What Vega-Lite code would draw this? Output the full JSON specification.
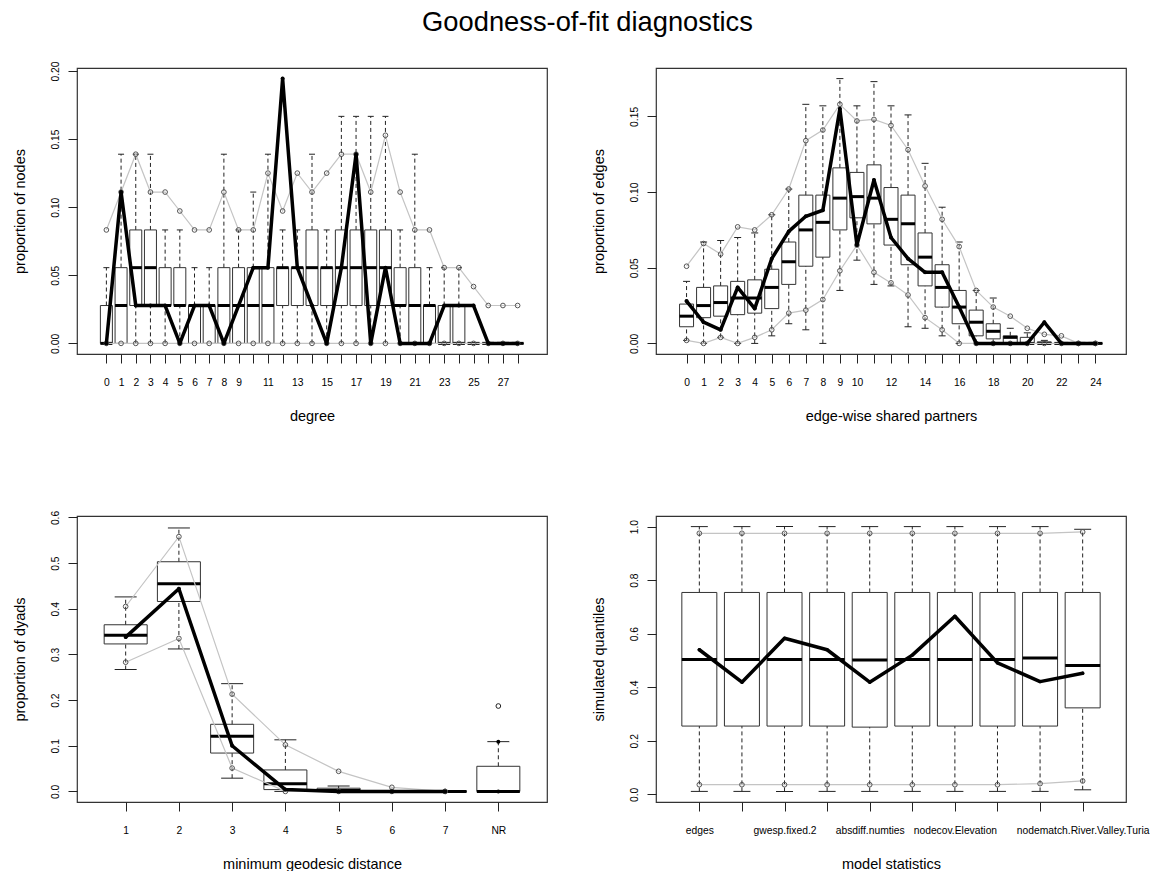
{
  "$schema": "https://vega.github.io/schema/vega-lite/v6.json",
  "title": {"text": "Goodness-of-fit diagnostics", "fontSize": 27.3, "fontWeight": "normal", "font": "Liberation Sans", "color": "#000", "anchor": "middle", "offset": 24, "dx": 7},
  "padding": {"left": 11, "top": 9, "right": 0, "bottom": 0},
  "bounds": "flush",
  "columns": 2,
  "spacing": {"row": 162, "column": 109},
  "config": {
    "font": "Liberation Sans",
    "view": {"stroke": "#333", "strokeWidth": 1.2},
    "axis": {"grid": false, "domain": false, "tickColor": "#222", "tickSize": 9, "labelFontSize": 10.3, "labelColor": "#000", "titleFontSize": 14.5, "titleFontWeight": "normal", "titleColor": "#000", "labelOverlap": false, "labelFlush": false},
    "axisX": {"labelAngle": 0, "labelPadding": 14, "titlePadding": 22},
    "axisY": {"labelAngle": -90, "labelAlign": "center", "labelBaseline": "bottom", "labelPadding": 8, "titlePadding": 23},
    "tick": {"opacity": 1}
  },
  "datasets": {
    "degree": [
      {"d": 0, "q1": 0, "med": 0, "q3": 0.0278, "lo": 0, "hi": 0.0556, "p025": 0, "p975": 0.0833, "obs": 0},
      {"d": 1, "q1": 0, "med": 0.0278, "q3": 0.0556, "lo": 0, "hi": 0.1389, "p025": 0, "p975": 0.1111, "obs": 0.1111},
      {"d": 2, "q1": 0.0278, "med": 0.0556, "q3": 0.0833, "lo": 0, "hi": 0.1389, "p025": 0, "p975": 0.1389, "obs": 0.0278},
      {"d": 3, "q1": 0.0278, "med": 0.0556, "q3": 0.0833, "lo": 0, "hi": 0.1389, "p025": 0, "p975": 0.1111, "obs": 0.0278},
      {"d": 4, "q1": 0.0278, "med": 0.0278, "q3": 0.0556, "lo": 0, "hi": 0.0833, "p025": 0, "p975": 0.1111, "obs": 0.0278},
      {"d": 5, "q1": 0.0278, "med": 0.0278, "q3": 0.0556, "lo": 0, "hi": 0.0833, "p025": 0, "p975": 0.0972, "obs": 0},
      {"d": 6, "q1": 0, "med": 0.0278, "q3": 0.0278, "lo": 0, "hi": 0.0556, "p025": 0, "p975": 0.0833, "obs": 0.0278},
      {"d": 7, "q1": 0, "med": 0.0278, "q3": 0.0278, "lo": 0, "hi": 0.0556, "p025": 0, "p975": 0.0833, "obs": 0.0278},
      {"d": 8, "q1": 0, "med": 0.0278, "q3": 0.0556, "lo": 0, "hi": 0.1389, "p025": 0, "p975": 0.1111, "obs": 0},
      {"d": 9, "q1": 0, "med": 0.0278, "q3": 0.0556, "lo": 0, "hi": 0.0833, "p025": 0, "p975": 0.0833, "obs": 0.0278},
      {"d": 10, "q1": 0, "med": 0.0278, "q3": 0.0556, "lo": 0, "hi": 0.1111, "p025": 0, "p975": 0.0833, "obs": 0.0556},
      {"d": 11, "q1": 0, "med": 0.0278, "q3": 0.0556, "lo": 0, "hi": 0.1389, "p025": 0, "p975": 0.125, "obs": 0.0556},
      {"d": 12, "q1": 0.0278, "med": 0.0556, "q3": 0.0556, "lo": 0, "hi": 0.0833, "p025": 0, "p975": 0.0972, "obs": 0.1944},
      {"d": 13, "q1": 0.0278, "med": 0.0556, "q3": 0.0556, "lo": 0, "hi": 0.0833, "p025": 0, "p975": 0.125, "obs": 0.0556},
      {"d": 14, "q1": 0.0278, "med": 0.0556, "q3": 0.0833, "lo": 0, "hi": 0.1389, "p025": 0, "p975": 0.1111, "obs": 0.0278},
      {"d": 15, "q1": 0.0278, "med": 0.0556, "q3": 0.0556, "lo": 0, "hi": 0.0833, "p025": 0, "p975": 0.125, "obs": 0},
      {"d": 16, "q1": 0.0278, "med": 0.0556, "q3": 0.0833, "lo": 0, "hi": 0.1667, "p025": 0, "p975": 0.1389, "obs": 0.0556},
      {"d": 17, "q1": 0.0278, "med": 0.0556, "q3": 0.0833, "lo": 0, "hi": 0.1667, "p025": 0, "p975": 0.1389, "obs": 0.1389},
      {"d": 18, "q1": 0.0278, "med": 0.0556, "q3": 0.0833, "lo": 0, "hi": 0.1667, "p025": 0, "p975": 0.1111, "obs": 0},
      {"d": 19, "q1": 0.0278, "med": 0.0556, "q3": 0.0833, "lo": 0, "hi": 0.1667, "p025": 0, "p975": 0.1528, "obs": 0.0556},
      {"d": 20, "q1": 0.0278, "med": 0.0278, "q3": 0.0556, "lo": 0, "hi": 0.0833, "p025": 0, "p975": 0.1111, "obs": 0},
      {"d": 21, "q1": 0, "med": 0.0278, "q3": 0.0556, "lo": 0, "hi": 0.1389, "p025": 0, "p975": 0.0833, "obs": 0},
      {"d": 22, "q1": 0, "med": 0.0278, "q3": 0.0278, "lo": 0, "hi": 0.0556, "p025": 0, "p975": 0.0833, "obs": 0},
      {"d": 23, "q1": 0, "med": 0, "q3": 0.0278, "lo": 0, "hi": 0.0556, "p025": 0, "p975": 0.0556, "obs": 0.0278},
      {"d": 24, "q1": 0, "med": 0, "q3": 0.0278, "lo": 0, "hi": 0.0556, "p025": 0, "p975": 0.0556, "obs": 0.0278},
      {"d": 25, "q1": 0, "med": 0, "q3": 0, "lo": 0, "hi": 0, "p025": 0, "p975": 0.0417, "obs": 0.0278},
      {"d": 26, "q1": 0, "med": 0, "q3": 0, "lo": 0, "hi": 0, "p025": 0, "p975": 0.0278, "obs": 0},
      {"d": 27, "q1": 0, "med": 0, "q3": 0, "lo": 0, "hi": 0, "p025": 0, "p975": 0.0278, "obs": 0},
      {"d": 28, "q1": 0, "med": 0, "q3": 0, "lo": 0, "hi": 0, "p025": 0, "p975": 0.0278, "obs": 0}
    ],
    "esp": [
      {"e": 0, "q1": 0.011, "med": 0.018, "q3": 0.026, "lo": 0.002, "hi": 0.041, "p025": 0.002, "p975": 0.051, "obs": 0.028},
      {"e": 1, "q1": 0.017, "med": 0.025, "q3": 0.037, "lo": 0, "hi": 0.067, "p025": 0, "p975": 0.066, "obs": 0.014},
      {"e": 2, "q1": 0.018, "med": 0.027, "q3": 0.038, "lo": 0.004, "hi": 0.068, "p025": 0.004, "p975": 0.059, "obs": 0.009},
      {"e": 3, "q1": 0.019, "med": 0.030, "q3": 0.041, "lo": 0, "hi": 0.070, "p025": 0, "p975": 0.077, "obs": 0.037},
      {"e": 4, "q1": 0.020, "med": 0.030, "q3": 0.042, "lo": 0, "hi": 0.073, "p025": 0.004, "p975": 0.075, "obs": 0.023},
      {"e": 5, "q1": 0.023, "med": 0.037, "q3": 0.049, "lo": 0.005, "hi": 0.085, "p025": 0.009, "p975": 0.085, "obs": 0.056},
      {"e": 6, "q1": 0.039, "med": 0.054, "q3": 0.067, "lo": 0.013, "hi": 0.102, "p025": 0.020, "p975": 0.102, "obs": 0.074},
      {"e": 7, "q1": 0.051, "med": 0.075, "q3": 0.098, "lo": 0.009, "hi": 0.158, "p025": 0.022, "p975": 0.134, "obs": 0.084},
      {"e": 8, "q1": 0.057, "med": 0.080, "q3": 0.098, "lo": 0, "hi": 0.157, "p025": 0.029, "p975": 0.141, "obs": 0.088},
      {"e": 9, "q1": 0.075, "med": 0.096, "q3": 0.116, "lo": 0.035, "hi": 0.175, "p025": 0.048, "p975": 0.158, "obs": 0.155},
      {"e": 10, "q1": 0.083, "med": 0.097, "q3": 0.113, "lo": 0.055, "hi": 0.157, "p025": 0.065, "p975": 0.147, "obs": 0.065},
      {"e": 11, "q1": 0.079, "med": 0.096, "q3": 0.118, "lo": 0.039, "hi": 0.173, "p025": 0.047, "p975": 0.148, "obs": 0.108},
      {"e": 12, "q1": 0.065, "med": 0.082, "q3": 0.103, "lo": 0.038, "hi": 0.157, "p025": 0.040, "p975": 0.144, "obs": 0.070},
      {"e": 13, "q1": 0.052, "med": 0.079, "q3": 0.098, "lo": 0.011, "hi": 0.151, "p025": 0.032, "p975": 0.128, "obs": 0.056},
      {"e": 14, "q1": 0.038, "med": 0.057, "q3": 0.073, "lo": 0.010, "hi": 0.119, "p025": 0.017, "p975": 0.104, "obs": 0.047},
      {"e": 15, "q1": 0.024, "med": 0.037, "q3": 0.052, "lo": 0.005, "hi": 0.090, "p025": 0.009, "p975": 0.082, "obs": 0.047},
      {"e": 16, "q1": 0.013, "med": 0.024, "q3": 0.035, "lo": 0, "hi": 0.067, "p025": 0, "p975": 0.064, "obs": 0.024},
      {"e": 17, "q1": 0.005, "med": 0.014, "q3": 0.022, "lo": 0, "hi": 0.035, "p025": 0, "p975": 0.035, "obs": 0},
      {"e": 18, "q1": 0.003, "med": 0.008, "q3": 0.013, "lo": 0, "hi": 0.030, "p025": 0, "p975": 0.024, "obs": 0},
      {"e": 19, "q1": 0, "med": 0.004, "q3": 0.005, "lo": 0, "hi": 0.010, "p025": 0, "p975": 0.018, "obs": 0},
      {"e": 20, "q1": 0, "med": 0, "q3": 0.004, "lo": 0, "hi": 0.007, "p025": 0, "p975": 0.010, "obs": 0},
      {"e": 21, "q1": 0, "med": 0, "q3": 0.001, "lo": 0, "hi": 0.002, "p025": 0, "p975": 0.006, "obs": 0.014},
      {"e": 22, "q1": 0, "med": 0, "q3": 0, "lo": 0, "hi": 0, "p025": 0, "p975": 0.005, "obs": 0},
      {"e": 23, "q1": 0, "med": 0, "q3": 0, "lo": 0, "hi": 0, "p025": 0, "p975": 0, "obs": 0},
      {"e": 24, "q1": 0, "med": 0, "q3": 0, "lo": 0, "hi": 0, "p025": 0, "p975": 0, "obs": 0}
    ],
    "dist": [
      {"g": 1, "q1": 0.323, "med": 0.342, "q3": 0.365, "lo": 0.267, "hi": 0.426, "p025": 0.283, "p975": 0.405, "obs": 0.338},
      {"g": 2, "q1": 0.416, "med": 0.455, "q3": 0.503, "lo": 0.312, "hi": 0.577, "p025": 0.335, "p975": 0.558, "obs": 0.444},
      {"g": 3, "q1": 0.084, "med": 0.121, "q3": 0.147, "lo": 0.029, "hi": 0.236, "p025": 0.051, "p975": 0.213, "obs": 0.100},
      {"g": 4, "q1": 0.004, "med": 0.017, "q3": 0.047, "lo": 0, "hi": 0.113, "p025": 0, "p975": 0.102, "obs": 0.004},
      {"g": 5, "q1": 0, "med": 0.002, "q3": 0.007, "lo": 0, "hi": 0.012, "p025": 0, "p975": 0.044, "obs": 0},
      {"g": 6, "q1": 0, "med": 0, "q3": 0, "lo": 0, "hi": 0.002, "p025": 0, "p975": 0.009, "obs": 0},
      {"g": 7, "q1": 0, "med": 0, "q3": 0, "lo": 0, "hi": 0, "p025": 0, "p975": 0, "obs": 0},
      {"g": 8, "q1": 0, "med": 0, "q3": 0.055, "lo": 0, "hi": 0.109, "obs": 0, "outlier": 0.187}
    ],
    "stats": [
      {"k": 1, "q1": 0.255, "med": 0.504, "q3": 0.754, "lo": 0.011, "hi": 1.0, "p025": 0.036, "p975": 0.975, "obs": 0.540},
      {"k": 2, "q1": 0.255, "med": 0.504, "q3": 0.754, "lo": 0.011, "hi": 1.0, "p025": 0.036, "p975": 0.975, "obs": 0.419},
      {"k": 3, "q1": 0.255, "med": 0.504, "q3": 0.754, "lo": 0.011, "hi": 1.0, "p025": 0.036, "p975": 0.975, "obs": 0.583},
      {"k": 4, "q1": 0.255, "med": 0.504, "q3": 0.754, "lo": 0.011, "hi": 1.0, "p025": 0.036, "p975": 0.975, "obs": 0.540},
      {"k": 5, "q1": 0.251, "med": 0.502, "q3": 0.754, "lo": 0.011, "hi": 1.0, "p025": 0.036, "p975": 0.975, "obs": 0.419},
      {"k": 6, "q1": 0.255, "med": 0.504, "q3": 0.754, "lo": 0.011, "hi": 1.0, "p025": 0.036, "p975": 0.975, "obs": 0.520},
      {"k": 7, "q1": 0.255, "med": 0.504, "q3": 0.754, "lo": 0.011, "hi": 1.0, "p025": 0.036, "p975": 0.975, "obs": 0.665},
      {"k": 8, "q1": 0.255, "med": 0.504, "q3": 0.754, "lo": 0.011, "hi": 1.0, "p025": 0.036, "p975": 0.975, "obs": 0.491},
      {"k": 9, "q1": 0.255, "med": 0.509, "q3": 0.754, "lo": 0.011, "hi": 1.0, "p025": 0.040, "p975": 0.975, "obs": 0.421},
      {"k": 10, "q1": 0.323, "med": 0.481, "q3": 0.754, "lo": 0.017, "hi": 0.99, "p025": 0.050, "p975": 0.980, "obs": 0.452}
    ]
  },
  "concat": [
    {
      "width": 470, "height": 286,
      "data": {"name": "degree"},
      "encoding": {
        "x": {"field": "d", "type": "quantitative", "title": "degree",
              "scale": {"domain": [-1.66, 29.66], "nice": false, "zero": false},
              "axis": {"values": [0,1,2,3,4,5,6,7,8,9,10,11,12,13,14,15,16,17,18,19,20,21,22,23,24,25,26,27,28], "format": "d",
                       "labelExpr": "datum.value <= 9 || datum.value % 2 == 1 ? datum.label : ''"}}
      },
      "layer": [
        {"mark": {"type": "rule", "strokeDash": [4, 3], "color": "#222"},
         "encoding": {"y": {"field": "q3", "type": "quantitative", "scale": {"domain": [-0.0078, 0.2022], "nice": false, "zero": false}, "title": "proportion of nodes", "axis": {"values": [0, 0.05, 0.1, 0.15, 0.2], "format": ".2f"}},
                      "y2": {"field": "hi"}}},
        {"mark": {"type": "rule", "strokeDash": [4, 3], "color": "#222"},
         "encoding": {"y": {"field": "lo", "type": "quantitative", "scale": {"domain": [-0.0078, 0.2022], "nice": false, "zero": false}, "title": "proportion of nodes", "axis": {"values": [0, 0.05, 0.1, 0.15, 0.2], "format": ".2f"}},
                      "y2": {"field": "q1"}}},
        {"mark": {"type": "tick", "orient": "horizontal", "size": 6, "thickness": 1, "color": "#222"},
         "encoding": {"y": {"field": "hi", "type": "quantitative", "scale": {"domain": [-0.0078, 0.2022], "nice": false, "zero": false}, "title": "proportion of nodes", "axis": {"values": [0, 0.05, 0.1, 0.15, 0.2], "format": ".2f"}}}},
        {"mark": {"type": "tick", "orient": "horizontal", "size": 6, "thickness": 1, "color": "#222"},
         "encoding": {"y": {"field": "lo", "type": "quantitative", "scale": {"domain": [-0.0078, 0.2022], "nice": false, "zero": false}, "title": "proportion of nodes", "axis": {"values": [0, 0.05, 0.1, 0.15, 0.2], "format": ".2f"}}}},
        {"mark": {"type": "bar", "size": 12, "fill": "#fff", "fillOpacity": 0, "stroke": "#333", "strokeWidth": 1},
         "encoding": {"y": {"field": "q1", "type": "quantitative", "scale": {"domain": [-0.0078, 0.2022], "nice": false, "zero": false}, "title": "proportion of nodes", "axis": {"values": [0, 0.05, 0.1, 0.15, 0.2], "format": ".2f"}},
                      "y2": {"field": "q3"}}},
        {"mark": {"type": "tick", "orient": "horizontal", "size": 12, "thickness": 3, "color": "#000"},
         "encoding": {"y": {"field": "med", "type": "quantitative", "scale": {"domain": [-0.0078, 0.2022], "nice": false, "zero": false}, "title": "proportion of nodes", "axis": {"values": [0, 0.05, 0.1, 0.15, 0.2], "format": ".2f"}}}},
        {"mark": {"type": "line", "color": "#c4c4c4", "strokeWidth": 1.2},
         "encoding": {"y": {"field": "p975", "type": "quantitative", "scale": {"domain": [-0.0078, 0.2022], "nice": false, "zero": false}, "title": "proportion of nodes", "axis": {"values": [0, 0.05, 0.1, 0.15, 0.2], "format": ".2f"}}}},
        {"mark": {"type": "line", "color": "#c4c4c4", "strokeWidth": 1.2},
         "encoding": {"y": {"field": "p025", "type": "quantitative", "scale": {"domain": [-0.0078, 0.2022], "nice": false, "zero": false}, "title": "proportion of nodes", "axis": {"values": [0, 0.05, 0.1, 0.15, 0.2], "format": ".2f"}}}},
        {"mark": {"type": "point", "shape": "circle", "filled": false, "stroke": "#555", "strokeWidth": 1, "size": 22, "opacity": 1},
         "encoding": {"y": {"field": "p975", "type": "quantitative", "scale": {"domain": [-0.0078, 0.2022], "nice": false, "zero": false}, "title": "proportion of nodes", "axis": {"values": [0, 0.05, 0.1, 0.15, 0.2], "format": ".2f"}}}},
        {"mark": {"type": "point", "shape": "circle", "filled": false, "stroke": "#555", "strokeWidth": 1, "size": 22, "opacity": 1},
         "encoding": {"y": {"field": "p025", "type": "quantitative", "scale": {"domain": [-0.0078, 0.2022], "nice": false, "zero": false}, "title": "proportion of nodes", "axis": {"values": [0, 0.05, 0.1, 0.15, 0.2], "format": ".2f"}}}},
        {"mark": {"type": "line", "color": "#000", "strokeWidth": 3.5, "strokeJoin": "round", "strokeCap": "round"},
         "encoding": {"y": {"field": "obs", "type": "quantitative", "scale": {"domain": [-0.0078, 0.2022], "nice": false, "zero": false}, "title": "proportion of nodes", "axis": {"values": [0, 0.05, 0.1, 0.15, 0.2], "format": ".2f"}}}},
        {"mark": {"type": "point", "shape": "circle", "filled": true, "color": "#000", "opacity": 1, "size": 16},
         "encoding": {"y": {"field": "obs", "type": "quantitative", "scale": {"domain": [-0.0078, 0.2022], "nice": false, "zero": false}, "title": "proportion of nodes", "axis": {"values": [0, 0.05, 0.1, 0.15, 0.2], "format": ".2f"}}}}
      ]
    },
    {
      "width": 470, "height": 286,
      "data": {"name": "esp"},
      "encoding": {
        "x": {"field": "e", "type": "quantitative", "title": "edge-wise shared partners",
              "scale": {"domain": [-1.5, 25.5], "nice": false, "zero": false},
              "axis": {"values": [0,1,2,3,4,5,6,7,8,9,10,11,12,13,14,15,16,17,18,19,20,21,22,23,24], "format": "d",
                       "labelExpr": "datum.value <= 10 || datum.value % 2 == 0 ? datum.label : ''"}}
      },
      "layer": [
        {"mark": {"type": "rule", "strokeDash": [4, 3], "color": "#222"},
         "encoding": {"y": {"field": "q3", "type": "quantitative", "scale": {"domain": [-0.007, 0.182], "nice": false, "zero": false}, "title": "proportion of edges", "axis": {"values": [0, 0.05, 0.1, 0.15], "format": ".2f"}},
                      "y2": {"field": "hi"}}},
        {"mark": {"type": "rule", "strokeDash": [4, 3], "color": "#222"},
         "encoding": {"y": {"field": "lo", "type": "quantitative", "scale": {"domain": [-0.007, 0.182], "nice": false, "zero": false}, "title": "proportion of edges", "axis": {"values": [0, 0.05, 0.1, 0.15], "format": ".2f"}},
                      "y2": {"field": "q1"}}},
        {"mark": {"type": "tick", "orient": "horizontal", "size": 7, "thickness": 1, "color": "#222"},
         "encoding": {"y": {"field": "hi", "type": "quantitative", "scale": {"domain": [-0.007, 0.182], "nice": false, "zero": false}, "title": "proportion of edges", "axis": {"values": [0, 0.05, 0.1, 0.15], "format": ".2f"}}}},
        {"mark": {"type": "tick", "orient": "horizontal", "size": 7, "thickness": 1, "color": "#222"},
         "encoding": {"y": {"field": "lo", "type": "quantitative", "scale": {"domain": [-0.007, 0.182], "nice": false, "zero": false}, "title": "proportion of edges", "axis": {"values": [0, 0.05, 0.1, 0.15], "format": ".2f"}}}},
        {"mark": {"type": "bar", "size": 14, "fill": "#fff", "fillOpacity": 0, "stroke": "#333", "strokeWidth": 1},
         "encoding": {"y": {"field": "q1", "type": "quantitative", "scale": {"domain": [-0.007, 0.182], "nice": false, "zero": false}, "title": "proportion of edges", "axis": {"values": [0, 0.05, 0.1, 0.15], "format": ".2f"}},
                      "y2": {"field": "q3"}}},
        {"mark": {"type": "tick", "orient": "horizontal", "size": 14, "thickness": 3, "color": "#000"},
         "encoding": {"y": {"field": "med", "type": "quantitative", "scale": {"domain": [-0.007, 0.182], "nice": false, "zero": false}, "title": "proportion of edges", "axis": {"values": [0, 0.05, 0.1, 0.15], "format": ".2f"}}}},
        {"mark": {"type": "line", "color": "#c4c4c4", "strokeWidth": 1.2},
         "encoding": {"y": {"field": "p975", "type": "quantitative", "scale": {"domain": [-0.007, 0.182], "nice": false, "zero": false}, "title": "proportion of edges", "axis": {"values": [0, 0.05, 0.1, 0.15], "format": ".2f"}}}},
        {"mark": {"type": "line", "color": "#c4c4c4", "strokeWidth": 1.2},
         "encoding": {"y": {"field": "p025", "type": "quantitative", "scale": {"domain": [-0.007, 0.182], "nice": false, "zero": false}, "title": "proportion of edges", "axis": {"values": [0, 0.05, 0.1, 0.15], "format": ".2f"}}}},
        {"mark": {"type": "point", "shape": "circle", "filled": false, "stroke": "#555", "strokeWidth": 1, "size": 22, "opacity": 1},
         "encoding": {"y": {"field": "p975", "type": "quantitative", "scale": {"domain": [-0.007, 0.182], "nice": false, "zero": false}, "title": "proportion of edges", "axis": {"values": [0, 0.05, 0.1, 0.15], "format": ".2f"}}}},
        {"mark": {"type": "point", "shape": "circle", "filled": false, "stroke": "#555", "strokeWidth": 1, "size": 22, "opacity": 1},
         "encoding": {"y": {"field": "p025", "type": "quantitative", "scale": {"domain": [-0.007, 0.182], "nice": false, "zero": false}, "title": "proportion of edges", "axis": {"values": [0, 0.05, 0.1, 0.15], "format": ".2f"}}}},
        {"mark": {"type": "line", "color": "#000", "strokeWidth": 3.5, "strokeJoin": "round", "strokeCap": "round"},
         "encoding": {"y": {"field": "obs", "type": "quantitative", "scale": {"domain": [-0.007, 0.182], "nice": false, "zero": false}, "title": "proportion of edges", "axis": {"values": [0, 0.05, 0.1, 0.15], "format": ".2f"}}}},
        {"mark": {"type": "point", "shape": "circle", "filled": true, "color": "#000", "opacity": 1, "size": 16},
         "encoding": {"y": {"field": "obs", "type": "quantitative", "scale": {"domain": [-0.007, 0.182], "nice": false, "zero": false}, "title": "proportion of edges", "axis": {"values": [0, 0.05, 0.1, 0.15], "format": ".2f"}}}}
      ]
    },
    {
      "width": 470, "height": 286,
      "data": {"name": "dist"},
      "encoding": {
        "x": {"field": "g", "type": "quantitative", "title": "minimum geodesic distance",
              "scale": {"domain": [0.18, 8.82], "nice": false, "zero": false},
              "axis": {"values": [1,2,3,4,5,6,7,8], "format": "d",
                       "labelExpr": "datum.value == 8 ? 'NR' : datum.label"}}
      },
      "layer": [
        {"mark": {"type": "rule", "strokeDash": [4, 3], "color": "#222"},
         "encoding": {"y": {"field": "q3", "type": "quantitative", "scale": {"domain": [-0.0232, 0.6032], "nice": false, "zero": false}, "title": "proportion of dyads", "axis": {"values": [0, 0.1, 0.2, 0.3, 0.4, 0.5, 0.6], "format": ".1f"}},
                      "y2": {"field": "hi"}}},
        {"mark": {"type": "rule", "strokeDash": [4, 3], "color": "#222"},
         "encoding": {"y": {"field": "lo", "type": "quantitative", "scale": {"domain": [-0.0232, 0.6032], "nice": false, "zero": false}, "title": "proportion of dyads", "axis": {"values": [0, 0.1, 0.2, 0.3, 0.4, 0.5, 0.6], "format": ".1f"}},
                      "y2": {"field": "q1"}}},
        {"mark": {"type": "tick", "orient": "horizontal", "size": 22, "thickness": 1, "color": "#222"},
         "encoding": {"y": {"field": "hi", "type": "quantitative", "scale": {"domain": [-0.0232, 0.6032], "nice": false, "zero": false}, "title": "proportion of dyads", "axis": {"values": [0, 0.1, 0.2, 0.3, 0.4, 0.5, 0.6], "format": ".1f"}}}},
        {"mark": {"type": "tick", "orient": "horizontal", "size": 22, "thickness": 1, "color": "#222"},
         "encoding": {"y": {"field": "lo", "type": "quantitative", "scale": {"domain": [-0.0232, 0.6032], "nice": false, "zero": false}, "title": "proportion of dyads", "axis": {"values": [0, 0.1, 0.2, 0.3, 0.4, 0.5, 0.6], "format": ".1f"}}}},
        {"mark": {"type": "bar", "size": 43, "fill": "#fff", "fillOpacity": 0, "stroke": "#333", "strokeWidth": 1},
         "encoding": {"y": {"field": "q1", "type": "quantitative", "scale": {"domain": [-0.0232, 0.6032], "nice": false, "zero": false}, "title": "proportion of dyads", "axis": {"values": [0, 0.1, 0.2, 0.3, 0.4, 0.5, 0.6], "format": ".1f"}},
                      "y2": {"field": "q3"}}},
        {"mark": {"type": "tick", "orient": "horizontal", "size": 43, "thickness": 3, "color": "#000"},
         "encoding": {"y": {"field": "med", "type": "quantitative", "scale": {"domain": [-0.0232, 0.6032], "nice": false, "zero": false}, "title": "proportion of dyads", "axis": {"values": [0, 0.1, 0.2, 0.3, 0.4, 0.5, 0.6], "format": ".1f"}}}},
        {"transform": [{"filter": "datum.g <= 7"}],
         "mark": {"type": "line", "color": "#c4c4c4", "strokeWidth": 1.2},
         "encoding": {"y": {"field": "p975", "type": "quantitative", "scale": {"domain": [-0.0232, 0.6032], "nice": false, "zero": false}, "title": "proportion of dyads", "axis": {"values": [0, 0.1, 0.2, 0.3, 0.4, 0.5, 0.6], "format": ".1f"}}}},
        {"transform": [{"filter": "datum.g <= 7"}],
         "mark": {"type": "line", "color": "#c4c4c4", "strokeWidth": 1.2},
         "encoding": {"y": {"field": "p025", "type": "quantitative", "scale": {"domain": [-0.0232, 0.6032], "nice": false, "zero": false}, "title": "proportion of dyads", "axis": {"values": [0, 0.1, 0.2, 0.3, 0.4, 0.5, 0.6], "format": ".1f"}}}},
        {"transform": [{"filter": "datum.g <= 7"}],
         "mark": {"type": "point", "shape": "circle", "filled": false, "stroke": "#555", "strokeWidth": 1, "size": 22, "opacity": 1},
         "encoding": {"y": {"field": "p975", "type": "quantitative", "scale": {"domain": [-0.0232, 0.6032], "nice": false, "zero": false}, "title": "proportion of dyads", "axis": {"values": [0, 0.1, 0.2, 0.3, 0.4, 0.5, 0.6], "format": ".1f"}}}},
        {"transform": [{"filter": "datum.g <= 7"}],
         "mark": {"type": "point", "shape": "circle", "filled": false, "stroke": "#555", "strokeWidth": 1, "size": 22, "opacity": 1},
         "encoding": {"y": {"field": "p025", "type": "quantitative", "scale": {"domain": [-0.0232, 0.6032], "nice": false, "zero": false}, "title": "proportion of dyads", "axis": {"values": [0, 0.1, 0.2, 0.3, 0.4, 0.5, 0.6], "format": ".1f"}}}},
        {"transform": [{"filter": "datum.g == 8"}],
         "mark": {"type": "point", "shape": "circle", "filled": false, "stroke": "#222", "strokeWidth": 1, "size": 22, "opacity": 1},
         "encoding": {"y": {"field": "outlier", "type": "quantitative", "scale": {"domain": [-0.0232, 0.6032], "nice": false, "zero": false}, "title": "proportion of dyads", "axis": {"values": [0, 0.1, 0.2, 0.3, 0.4, 0.5, 0.6], "format": ".1f"}}}},
        {"transform": [{"filter": "datum.g == 8"}],
         "mark": {"type": "point", "shape": "circle", "filled": true, "color": "#000", "opacity": 1, "size": 16},
         "encoding": {"y": {"field": "hi", "type": "quantitative", "scale": {"domain": [-0.0232, 0.6032], "nice": false, "zero": false}, "title": "proportion of dyads", "axis": {"values": [0, 0.1, 0.2, 0.3, 0.4, 0.5, 0.6], "format": ".1f"}}}},
        {"transform": [{"filter": "datum.g <= 7"}],
         "mark": {"type": "line", "color": "#000", "strokeWidth": 3.5, "strokeJoin": "round", "strokeCap": "round"},
         "encoding": {"y": {"field": "obs", "type": "quantitative", "scale": {"domain": [-0.0232, 0.6032], "nice": false, "zero": false}, "title": "proportion of dyads", "axis": {"values": [0, 0.1, 0.2, 0.3, 0.4, 0.5, 0.6], "format": ".1f"}}}},
        {"mark": {"type": "point", "shape": "circle", "filled": true, "color": "#000", "opacity": 1, "size": 16},
         "encoding": {"y": {"field": "obs", "type": "quantitative", "scale": {"domain": [-0.0232, 0.6032], "nice": false, "zero": false}, "title": "proportion of dyads", "axis": {"values": [0, 0.1, 0.2, 0.3, 0.4, 0.5, 0.6], "format": ".1f"}}}}
      ]
    },
    {
      "width": 470, "height": 286,
      "data": {"name": "stats"},
      "encoding": {
        "x": {"field": "k", "type": "quantitative", "title": "model statistics",
              "scale": {"domain": [0.1, 10.9], "nice": false, "zero": false},
              "axis": {"values": [1,2,3,4,5,6,7,8,9,10], "format": "d",
                       "labelExpr": "datum.value == 1 ? 'edges' : datum.value == 3 ? 'gwesp.fixed.2' : datum.value == 5 ? 'absdiff.numties' : datum.value == 7 ? 'nodecov.Elevation' : datum.value == 10 ? 'nodematch.River.Valley.Turia' : ''"}}
      },
      "layer": [
        {"mark": {"type": "rule", "strokeDash": [4, 3], "color": "#222"},
         "encoding": {"y": {"field": "q3", "type": "quantitative", "scale": {"domain": [-0.0286, 1.0396], "nice": false, "zero": false}, "title": "simulated quantiles", "axis": {"values": [0, 0.2, 0.4, 0.6, 0.8, 1.0], "format": ".1f"}},
                      "y2": {"field": "hi"}}},
        {"mark": {"type": "rule", "strokeDash": [4, 3], "color": "#222"},
         "encoding": {"y": {"field": "lo", "type": "quantitative", "scale": {"domain": [-0.0286, 1.0396], "nice": false, "zero": false}, "title": "simulated quantiles", "axis": {"values": [0, 0.2, 0.4, 0.6, 0.8, 1.0], "format": ".1f"}},
                      "y2": {"field": "q1"}}},
        {"mark": {"type": "tick", "orient": "horizontal", "size": 17, "thickness": 1, "color": "#222"},
         "encoding": {"y": {"field": "hi", "type": "quantitative", "scale": {"domain": [-0.0286, 1.0396], "nice": false, "zero": false}, "title": "simulated quantiles", "axis": {"values": [0, 0.2, 0.4, 0.6, 0.8, 1.0], "format": ".1f"}}}},
        {"mark": {"type": "tick", "orient": "horizontal", "size": 17, "thickness": 1, "color": "#222"},
         "encoding": {"y": {"field": "lo", "type": "quantitative", "scale": {"domain": [-0.0286, 1.0396], "nice": false, "zero": false}, "title": "simulated quantiles", "axis": {"values": [0, 0.2, 0.4, 0.6, 0.8, 1.0], "format": ".1f"}}}},
        {"mark": {"type": "bar", "size": 35, "fill": "#fff", "fillOpacity": 0, "stroke": "#333", "strokeWidth": 1},
         "encoding": {"y": {"field": "q1", "type": "quantitative", "scale": {"domain": [-0.0286, 1.0396], "nice": false, "zero": false}, "title": "simulated quantiles", "axis": {"values": [0, 0.2, 0.4, 0.6, 0.8, 1.0], "format": ".1f"}},
                      "y2": {"field": "q3"}}},
        {"mark": {"type": "tick", "orient": "horizontal", "size": 35, "thickness": 3, "color": "#000"},
         "encoding": {"y": {"field": "med", "type": "quantitative", "scale": {"domain": [-0.0286, 1.0396], "nice": false, "zero": false}, "title": "simulated quantiles", "axis": {"values": [0, 0.2, 0.4, 0.6, 0.8, 1.0], "format": ".1f"}}}},
        {"mark": {"type": "line", "color": "#c4c4c4", "strokeWidth": 1.2},
         "encoding": {"y": {"field": "p975", "type": "quantitative", "scale": {"domain": [-0.0286, 1.0396], "nice": false, "zero": false}, "title": "simulated quantiles", "axis": {"values": [0, 0.2, 0.4, 0.6, 0.8, 1.0], "format": ".1f"}}}},
        {"mark": {"type": "line", "color": "#c4c4c4", "strokeWidth": 1.2},
         "encoding": {"y": {"field": "p025", "type": "quantitative", "scale": {"domain": [-0.0286, 1.0396], "nice": false, "zero": false}, "title": "simulated quantiles", "axis": {"values": [0, 0.2, 0.4, 0.6, 0.8, 1.0], "format": ".1f"}}}},
        {"mark": {"type": "point", "shape": "circle", "filled": false, "stroke": "#555", "strokeWidth": 1, "size": 22, "opacity": 1},
         "encoding": {"y": {"field": "p975", "type": "quantitative", "scale": {"domain": [-0.0286, 1.0396], "nice": false, "zero": false}, "title": "simulated quantiles", "axis": {"values": [0, 0.2, 0.4, 0.6, 0.8, 1.0], "format": ".1f"}}}},
        {"mark": {"type": "point", "shape": "circle", "filled": false, "stroke": "#555", "strokeWidth": 1, "size": 22, "opacity": 1},
         "encoding": {"y": {"field": "p025", "type": "quantitative", "scale": {"domain": [-0.0286, 1.0396], "nice": false, "zero": false}, "title": "simulated quantiles", "axis": {"values": [0, 0.2, 0.4, 0.6, 0.8, 1.0], "format": ".1f"}}}},
        {"mark": {"type": "line", "color": "#000", "strokeWidth": 3.5, "strokeJoin": "round", "strokeCap": "round"},
         "encoding": {"y": {"field": "obs", "type": "quantitative", "scale": {"domain": [-0.0286, 1.0396], "nice": false, "zero": false}, "title": "simulated quantiles", "axis": {"values": [0, 0.2, 0.4, 0.6, 0.8, 1.0], "format": ".1f"}}}},
        {"mark": {"type": "point", "shape": "circle", "filled": true, "color": "#000", "opacity": 1, "size": 12},
         "encoding": {"y": {"field": "obs", "type": "quantitative", "scale": {"domain": [-0.0286, 1.0396], "nice": false, "zero": false}, "title": "simulated quantiles", "axis": {"values": [0, 0.2, 0.4, 0.6, 0.8, 1.0], "format": ".1f"}}}}
      ]
    }
  ]
}
